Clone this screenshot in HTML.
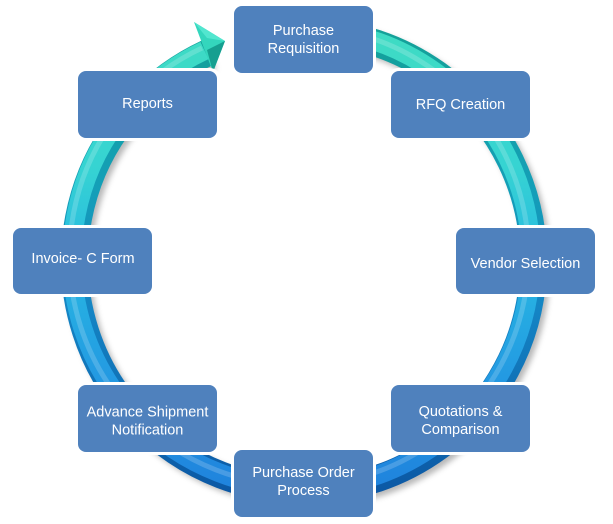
<!DOCTYPE html>
<html>
<head>
<meta charset="utf-8">
<style>
  html,body{margin:0;padding:0;background:#ffffff;}
  body{width:613px;height:524px;overflow:hidden;}
  svg{display:block;}
  text{font-family:"Liberation Sans",Arial,sans-serif;font-size:14.5px;fill:#ffffff;text-anchor:middle;}
</style>
</head>
<body>
<svg width="613" height="524" viewBox="0 0 613 524" xmlns="http://www.w3.org/2000/svg">
  <defs>
    <linearGradient id="gDark" gradientUnits="userSpaceOnUse" x1="0" y1="20" x2="0" y2="505">
      <stop offset="0" stop-color="#14a196"/>
      <stop offset="0.35" stop-color="#149fb8"/>
      <stop offset="0.6" stop-color="#1484c4"/>
      <stop offset="1" stop-color="#0b55a2"/>
    </linearGradient>
    <linearGradient id="gLight" gradientUnits="userSpaceOnUse" x1="0" y1="20" x2="0" y2="505">
      <stop offset="0" stop-color="#3fdcc2"/>
      <stop offset="0.3" stop-color="#36d4d2"/>
      <stop offset="0.5" stop-color="#27b8e2"/>
      <stop offset="0.75" stop-color="#2398e2"/>
      <stop offset="1" stop-color="#1f80dc"/>
    </linearGradient>
    <filter id="blur" x="-20%" y="-20%" width="140%" height="140%">
      <feGaussianBlur stdDeviation="3"/>
    </filter>
  </defs>

  <!-- ring shadow -->
  <path d="M 347.9 39 A 229.5 229.5 0 1 1 211 57" fill="none" stroke="#000" stroke-opacity="0.28" stroke-width="26" filter="url(#blur)"/>

  <!-- ring base (dark) -->
  <path d="M 343.9 35 A 229.5 229.5 0 1 1 207 53" fill="none" stroke="url(#gDark)" stroke-width="27"/>
  <!-- ring light body, offset to upper-left -->
  <path d="M 341.4 32.5 A 229.5 229.5 0 1 1 204.5 50.5" fill="none" stroke="url(#gLight)" stroke-width="19"/>
  <!-- highlight -->
  <path d="M 339 30 A 229.5 229.5 0 1 1 202 48" fill="none" stroke="#ffffff" stroke-opacity="0.18" stroke-width="5"/>

  <!-- arrowhead -->
  <polygon points="194,22 225,41 213,72" fill="#34d6bd"/>
  <polygon points="225,41 213,72 207,50" fill="#169f90"/>
  <polygon points="194,22 225,41 207,38" fill="#52e6cf"/>

  <!-- boxes: white outline then blue -->
  <g fill="#ffffff">
    <rect x="231" y="3" width="145" height="73" rx="10"/>
    <rect x="388" y="68" width="145" height="73" rx="10"/>
    <rect x="453" y="225" width="145" height="72" rx="10"/>
    <rect x="388" y="382" width="145" height="73" rx="10"/>
    <rect x="231" y="447" width="145" height="73" rx="10"/>
    <rect x="75" y="382" width="145" height="73" rx="10"/>
    <rect x="10" y="225" width="145" height="72" rx="10"/>
    <rect x="75" y="68" width="145" height="73" rx="10"/>
  </g>
  <g fill="#4f81bd">
    <rect x="234" y="6" width="139" height="67" rx="8"/>
    <rect x="391" y="71" width="139" height="67" rx="8"/>
    <rect x="456" y="228" width="139" height="66" rx="8"/>
    <rect x="391" y="385" width="139" height="67" rx="8"/>
    <rect x="234" y="450" width="139" height="67" rx="8"/>
    <rect x="78" y="385" width="139" height="67" rx="8"/>
    <rect x="13" y="228" width="139" height="66" rx="8"/>
    <rect x="78" y="71" width="139" height="67" rx="8"/>
  </g>

  <!-- labels -->
  <text x="303.5" y="35">Purchase</text>
  <text x="303.5" y="53">Requisition</text>

  <text x="460.5" y="109">RFQ Creation</text>

  <text x="525.5" y="268">Vendor Selection</text>

  <text x="460.5" y="416">Quotations &amp;</text>
  <text x="460.5" y="434">Comparison</text>

  <text x="303.5" y="477">Purchase Order</text>
  <text x="303.5" y="495">Process</text>

  <text x="147.5" y="416.5">Advance Shipment</text>
  <text x="147.5" y="434.5">Notification</text>

  <text x="83" y="263">Invoice- C Form</text>

  <text x="147.5" y="108">Reports</text>
</svg>
</body>
</html>
